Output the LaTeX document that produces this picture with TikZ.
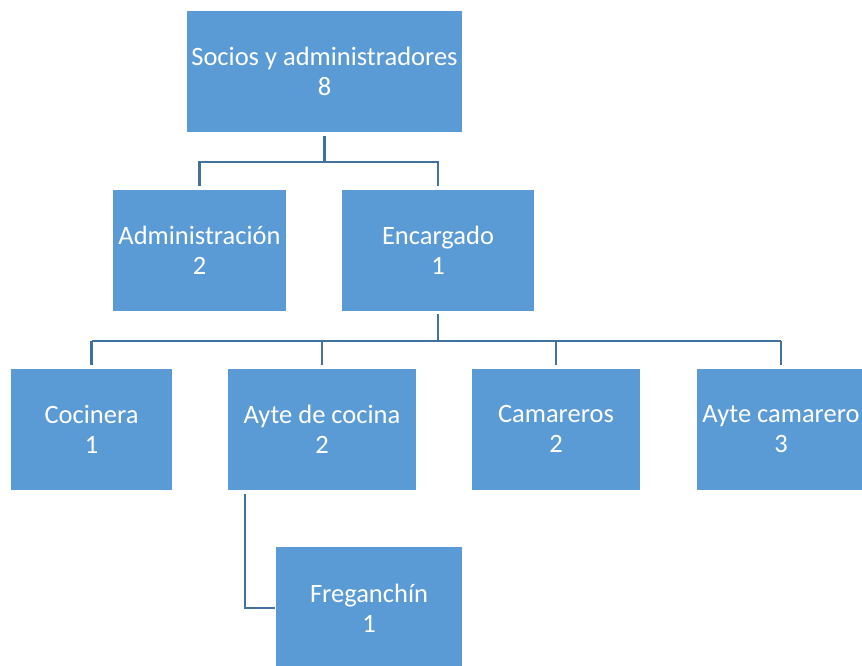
\documentclass[tikz,border=0pt]{standalone}
\usepackage{fontspec}
\setmainfont{Carlito}
\usepackage{xcolor}
\definecolor{cajaazul}{HTML}{5B9BD5}
\definecolor{lineaazul}{HTML}{41719C}

\begin{document}
\begin{tikzpicture}[x=1pt,y=-1pt,
    cargo/.style={fill=cajaazul, draw=white, line width=0.6pt, text=white, align=center,
      inner sep=0pt, font=\fontsize{26.5}{30}\selectfont},
    enlace/.style={draw=lineaazul, line width=2.6pt}]
      \useasboundingbox (0,0) rectangle (862,666);
      % Boxes
      \node[cargo, minimum width=276pt, minimum height=122pt] (socios) at (324.5,71.5) {Socios y administradores\\8};
      \node[cargo, minimum width=174pt, minimum height=122pt] (admin) at (199.5,250) {Administración\\2};
      \node[cargo, minimum width=193pt, minimum height=122pt] (encargado) at (438,250) {Encargado\\1};
      \node[cargo, minimum width=162pt, minimum height=122pt] (cocinera) at (91.5,429) {Cocinera\\1};
      \node[cargo, minimum width=189pt, minimum height=122pt] (aytecocina) at (322,429) {Ayte de cocina\\2};
      \node[cargo, minimum width=169pt, minimum height=122pt] (camareros) at (556,429) {Camareros\\2};
      \node[cargo, minimum width=170pt, minimum height=122pt] (aytecamarero) at (781,429) {Ayte camarero\\3};
      \node[cargo, minimum width=187pt, minimum height=124pt] (freganchin) at (369,608) {Freganchín\\1};
      % Connectors
      \draw[enlace] ([yshift=-3pt]socios.south) -- (324.5,162) -| ([yshift=3pt]admin.north);
      \draw[enlace] (324.5,162) -| ([yshift=3pt]encargado.north);
      \draw[enlace] ([yshift=-3pt]encargado.south) -- (438,341);
      \draw[enlace] (91.5,341) -- (781,341);
      \foreach \n in {cocinera,aytecocina,camareros,aytecamarero}
        \draw[enlace] (\n.north |- 0,341) -- ([yshift=3pt]\n.north);
      \draw[enlace] (245,494) |- (freganchin.west);
    \end{tikzpicture}
\end{document}
